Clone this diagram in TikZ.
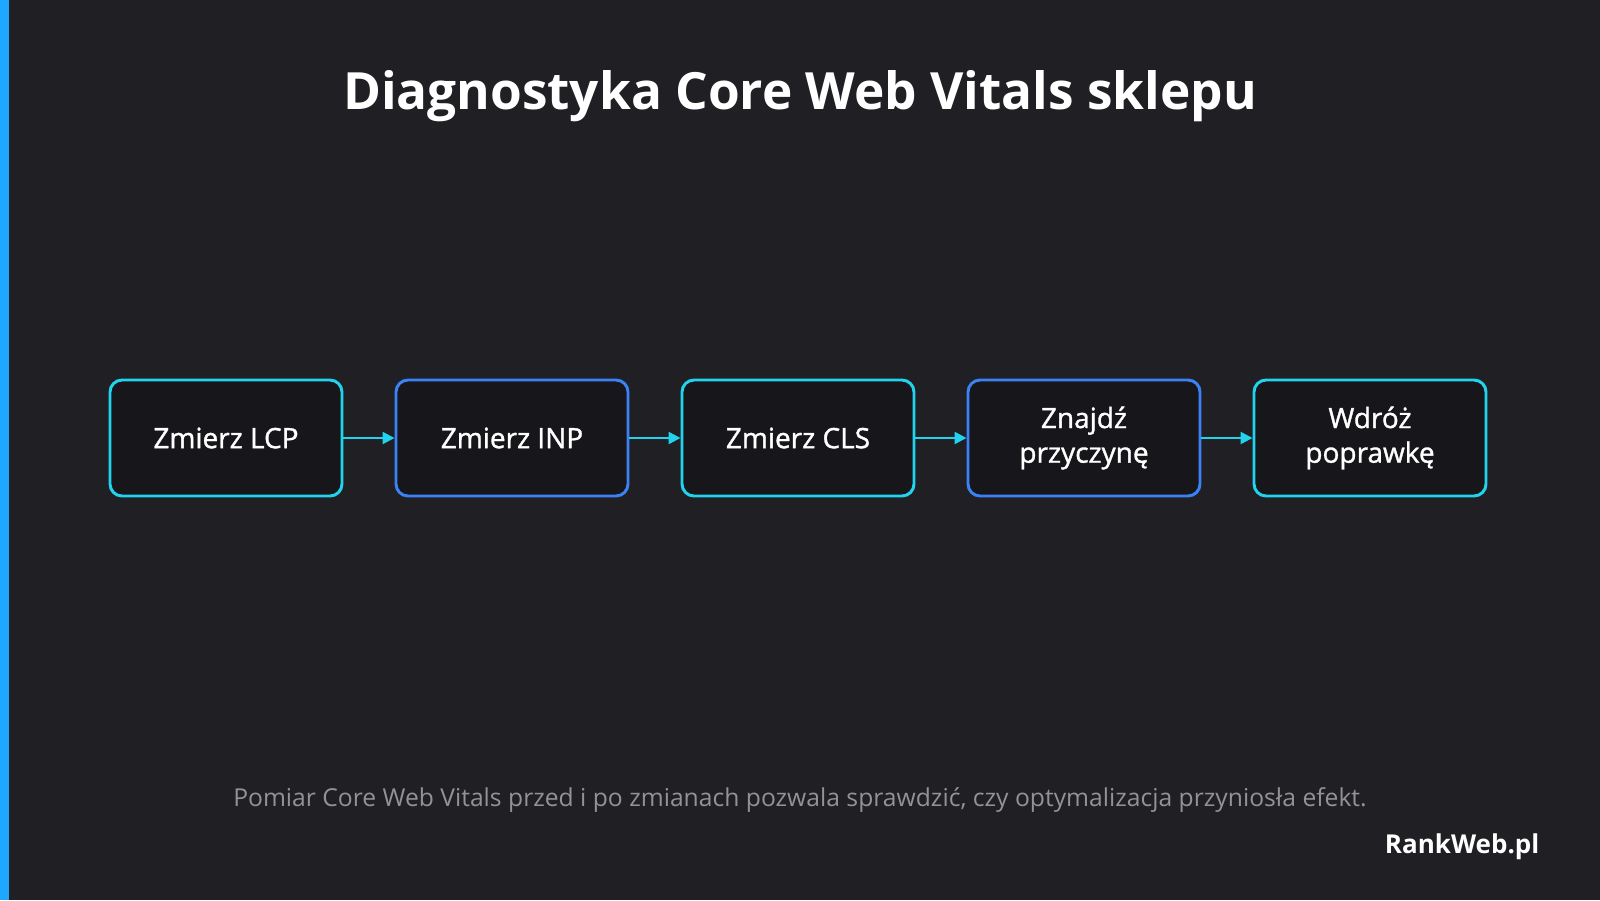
\documentclass[tikz,border=0pt]{standalone}
\usepackage{fontspec}
\setmainfont{Open Sans}
\newfontfamily\semib{Open Sans}[BoldFont=Open Sans,BoldFeatures={FakeBold=1.2}]
\usetikzlibrary{arrows.meta}
\definecolor{bg}{HTML}{1F1F24}
\definecolor{boxbg}{HTML}{16161B}
\definecolor{cy}{HTML}{22D3EE}
\definecolor{bl}{HTML}{3B82F6}
\definecolor{bar}{HTML}{1EA7FF}
\begin{document}
\begin{tikzpicture}[x=0.75pt,y=-0.75pt,
  box/.style={draw=#1,line width=2.2pt,fill=boxbg,rounded corners=9pt,minimum width=174pt,minimum height=87pt,text=white,font=\semib\bfseries\fontsize{21}{26}\selectfont,align=center,inner sep=0pt},
  arr/.style={draw=cy,line width=1.8pt,-{Triangle[length=9pt,width=9pt]}}]
\fill[bg] (0,0) rectangle (1600,900);
\useasboundingbox (0,0) rectangle (1600,900);
\fill[bar] (0,0) rectangle (9,900);
\node[text=white,font=\bfseries\fontsize{38.5}{44}\selectfont] (title) at (800,96) {Diagnostyka Core Web Vitals sklepu};
\node[box=cy] (a) at (226,438) {Zmierz LCP};
\node[box=bl] (b) at (512,438) {Zmierz INP};
\node[box=cy] (c) at (798,438) {Zmierz CLS};
\node[box=bl] (d) at (1084,438) {Znajdź\\przyczynę};
\node[box=cy] (e) at (1370,438) {Wdróż\\poprawkę};
\draw[arr] (a) -- (b);
\draw[arr] (b) -- (c);
\draw[arr] (c) -- (d);
\draw[arr] (d) -- (e);
\node[text=gray!85,font=\fontsize{18.5}{21}\selectfont] (cap) at (800,800) {Pomiar Core Web Vitals przed i po zmianach pozwala sprawdzić, czy optymalizacja przyniosła efekt.};
\node[text=white!92,font=\bfseries\fontsize{19.5}{22}\selectfont,anchor=east] (brand) at (1544,847) {RankWeb.pl};
\end{tikzpicture}
\end{document}
